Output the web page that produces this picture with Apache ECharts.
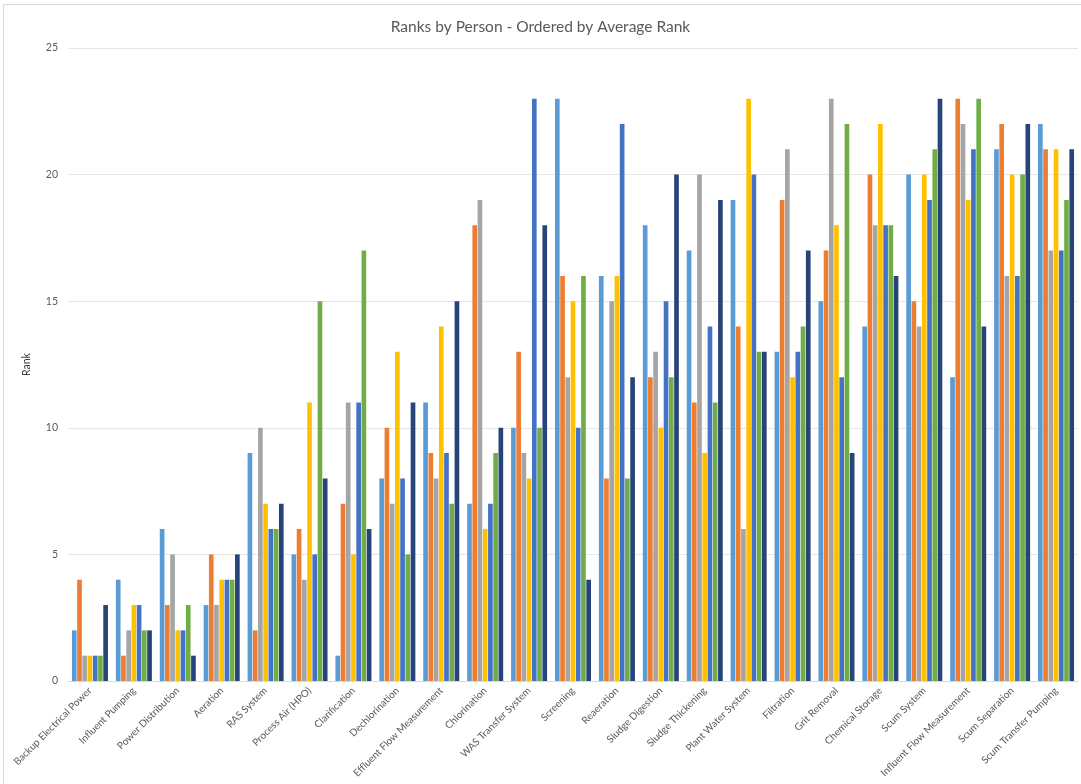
<!DOCTYPE html>
<html>
<head>
<meta charset="utf-8">
<script src="https://cdn.jsdelivr.net/npm/echarts@6/dist/echarts.min.js"></script>
<style>
html,body{margin:0;padding:0;background:#fff;overflow:hidden;}
#frame{position:absolute;left:3px;top:4px;width:1100px;height:800px;border-left:1px solid #d9d9d9;border-top:1px solid #d9d9d9;}
#chart{position:absolute;left:0;top:0;width:1081px;height:784px;}
</style>
</head>
<body>
<div id="frame"></div>
<div id="chart"></div>
<script>
const categories = ["Backup Electrical Power","Influent Pumping","Power Distribution","Aeration","RAS System","Process Air (HPO)","Clarification","Dechlorination","Effluent Flow Measurement","Chlorination","WAS Transfer System","Screening","Reaeration","Sludge Digestion","Sludge Thickening","Plant Water System","Filtration","Grit Removal","Chemical Storage","Scum System","Influent Flow Measurement","Scum Separation","Scum Transfer Pumping"];
const person1 = [2,4,6,3,9,5,1,8,11,7,10,23,16,18,17,19,13,15,14,20,12,21,22];
const person2 = [4,1,3,5,2,6,7,10,9,18,13,16,8,12,11,14,19,17,20,15,23,22,21];
const person3 = [1,2,5,3,10,4,11,7,8,19,9,12,15,13,20,6,21,23,18,14,22,16,17];
const person4 = [1,3,2,4,7,11,5,13,14,6,8,15,16,10,9,23,12,18,22,20,19,20,21];
const person5 = [1,3,2,4,6,5,11,8,9,7,23,10,22,15,14,20,13,12,18,19,21,16,17];
const person6 = [1,2,3,4,6,15,17,5,7,9,10,16,8,12,11,13,14,22,18,21,23,20,19];
const person7 = [3,2,1,5,7,8,6,11,15,10,18,4,12,20,19,13,17,9,16,23,14,22,21];
const seriesNames = ["Person 1","Person 2","Person 3","Person 4","Person 5","Person 6","Person 7"];
const yTicks = [0,5,10,15,20,25];

const allData = [person1,person2,person3,person4,person5,person6,person7];
const colors = ["#5B9BD5","#ED7D31","#A5A5A5","#FFC000","#4472C4","#70AD47","#264478"];
const FONT = "Lato";

const chart = echarts.init(document.getElementById('chart'));
chart.setOption({
  backgroundColor: 'transparent',
  animation: false,
  title: {
    text: 'Ranks by Person - Ordered by Average Rank',
    left: 'center', top: 14,
    textStyle: {fontFamily: FONT, fontSize: 15.5, fontWeight: 'normal', color: '#595959'}
  },
  grid: {left: 68, right: 3, top: 48, bottom: 103, containLabel: false},
  xAxis: {
    type: 'category',
    data: categories,
    axisTick: {show: false},
    axisLine: {lineStyle: {color: '#d9d9d9'}},
    axisLabel: {rotate: 45, interval: 0, fontFamily: FONT, fontSize: 10, color: '#595959', margin: 8}
  },
  yAxis: {
    type: 'value',
    min: yTicks[0], max: yTicks[yTicks.length-1], interval: 5,
    name: 'Rank', nameLocation: 'middle', nameGap: 36, nameRotate: 90,
    nameTextStyle: {fontFamily: FONT, fontSize: 10.5, color: '#404040'},
    axisLine: {show: false}, axisTick: {show: false},
    axisLabel: {fontFamily: FONT, fontSize: 10.5, color: '#595959', margin: 10},
    splitLine: {lineStyle: {color: '#e6e6e6'}}
  },
  series: allData.map((d, i) => ({
    name: seriesNames[i],
    type: 'bar',
    data: d,
    barGap: '12%',
    barCategoryGap: '18%',
    itemStyle: {color: colors[i]}
  }))
});
</script>
</body>
</html>
